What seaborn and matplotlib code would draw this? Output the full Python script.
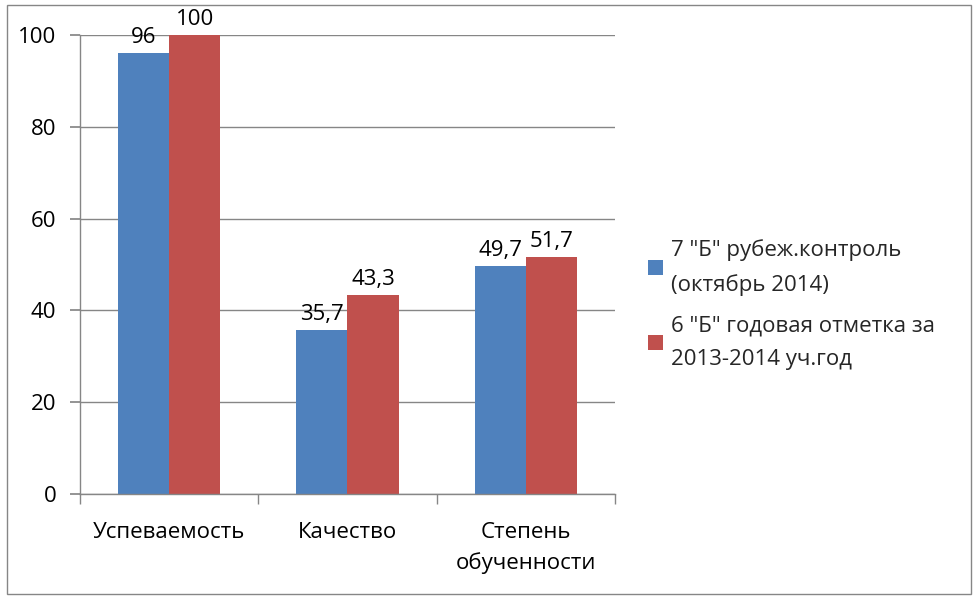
import matplotlib
matplotlib.use("Agg")
import matplotlib.pyplot as plt
import seaborn as sns
import pandas as pd
from matplotlib.patches import Rectangle

categories = ["Успеваемость", "Качество", "Степень\nобученности"]
series_names = ['7 "Б" рубеж.контроль\n(октябрь 2014)',
                '6 "Б" годовая отметка за\n2013-2014 уч.год']
values_7b = [96, 35.7, 49.7]
values_6b = [100, 43.3, 51.7]
labels_7b = ["96", "35,7", "49,7"]
labels_6b = ["100", "43,3", "51,7"]
colors = ["#4F81BD", "#C0504D"]

sns.set_theme(style="white")
plt.rcParams['font.family'] = ['Open Sans', 'DejaVu Sans']

FS = 16

df = pd.DataFrame({
    "cat": categories * 2,
    "val": values_7b + values_6b,
    "ser": [series_names[0]] * 3 + [series_names[1]] * 3,
})

fig = plt.figure(figsize=(9.76, 6.0), dpi=100)
ax = fig.add_axes([80/976, 1 - 494/600, (615-80)/976, (494-35)/600])

sns.barplot(data=df, x="cat", y="val", hue="ser", palette=colors,
            width=0.575, saturation=1, ax=ax, legend=True, linewidth=0)

for cont, labs in zip(ax.containers, [labels_7b, labels_6b]):
    ax.bar_label(cont, labels=labs, padding=3.5, fontsize=FS, color="black")

ax.set_ylim(0, 100)
ax.set_xlim(-0.5, 2.5)
ax.set_yticks([0, 20, 40, 60, 80, 100])
ax.set_yticklabels(["0", "20", "40", "60", "80", "100"])
ax.yaxis.grid(True, color="#868686", linewidth=1)
ax.set_axisbelow(True)
ax.set_xlabel("")
ax.set_ylabel("")
for s in ["top", "right"]:
    ax.spines[s].set_visible(False)
for s in ["left", "bottom"]:
    ax.spines[s].set_color("#868686")
    ax.spines[s].set_linewidth(1)
ax.tick_params(axis="y", left=True, length=7, color="#868686", labelsize=FS, pad=10,
               labelcolor="black")
ax.tick_params(axis="x", bottom=False, labelsize=FS, pad=14, labelcolor="black")
for t in ax.get_xticklabels():
    t.set_linespacing(1.55)
ax.set_xticks([-0.5, 0.5, 1.5, 2.5], minor=True)
ax.tick_params(axis="x", which="minor", bottom=True, length=7, color="#868686")

leg = ax.legend(loc="center left", bbox_to_anchor=(1.025, 0.413), frameon=False,
                fontsize=FS, handlelength=0.65, handleheight=0.65, labelspacing=0.9,
                handletextpad=0.35)
for t in leg.get_texts():
    t.set_linespacing(1.75)

fig.patches.append(Rectangle((7/976, 6/600), 964/976, 589/600, transform=fig.transFigure,
                             fill=False, edgecolor="#868686", linewidth=1))

fig.savefig("out.png", dpi=100)
